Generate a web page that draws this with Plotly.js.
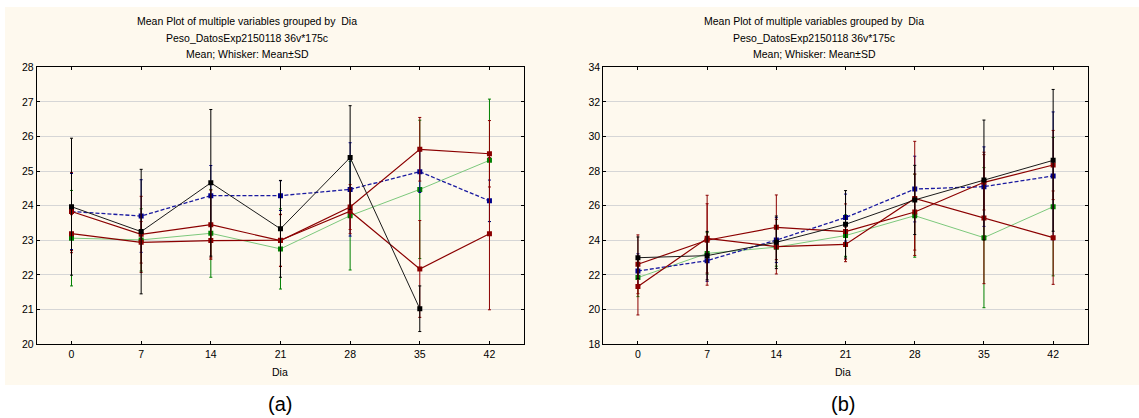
<!DOCTYPE html>
<html>
<head>
<meta charset="utf-8">
<script src="https://cdn.plot.ly/plotly-3.0.1.min.js"></script>
<style>html,body{margin:0;padding:0;background:#fff;}#chart{width:1139px;height:418px;}</style>
</head>
<body>
<div id="chart"></div>
<script>
// Data
var days = [0, 7, 14, 21, 28, 35, 42];
var tickLabels = ["0", "7", "14", "21", "28", "35", "42"];

// Panel (a)
var aBlack   = [23.97, 23.25, 24.66, 23.33, 25.39, 21.02, null];
var aBlackSd = [1.98, 1.80, 2.12, 1.40, 1.50, 0.66, null];
var aBlue    = [23.83, 23.70, 24.29, 24.29, 24.47, 24.98, 24.14];
var aBlueSd  = [1.10, 1.05, 0.87, 0.43, 1.35, 0.60, 0.60];
var aGreen   = [23.06, 23.01, 23.20, 22.75, 23.71, 24.47, 25.31];
var aGreenSd = [1.38, 0.90, 1.27, 1.16, 1.57, 2.00, 1.77];
var aRed1    = [23.83, 23.17, 23.45, 22.99, 23.96, 25.63, 25.50];
var aRed1Sd  = [1.13, 1.10, 1.00, 0.75, 0.65, 0.92, 0.96];
var aRed2    = [23.19, 22.94, 22.99, 23.00, 23.84, 22.17, 23.19];
var aRed2Sd  = [0.55, 0.60, 0.50, 0.75, 0.65, 1.40, 2.20];

// Panel (b)
var bBlack   = [22.99, 23.11, 23.88, 24.92, 26.33, 27.48, 28.62];
var bBlackSd = [1.20, 1.40, 1.52, 1.95, 2.00, 3.47, 4.10];
var bBlue    = [22.22, 22.82, 24.01, 25.31, 26.96, 27.10, 27.72];
var bBlueSd  = [1.00, 1.20, 1.30, 1.36, 1.90, 2.30, 3.70];
var bGreen   = [21.84, 23.24, 23.60, 24.27, 25.42, 24.15, 25.94];
var bGreenSd = [1.10, 1.20, 1.10, 1.20, 2.40, 4.05, 4.00];
var bRed1    = [22.61, 24.00, 24.75, 24.50, 25.63, 27.35, 28.35];
var bRed1Sd  = [1.70, 2.60, 1.87, 1.60, 2.20, 1.60, 2.00];
var bRed2    = [21.33, 24.11, 23.63, 23.76, 26.42, 25.29, 24.15];
var bRed2Sd  = [1.65, 2.00, 1.58, 1.00, 3.30, 3.80, 2.70];

var titleLines = ["Mean Plot of multiple variables grouped by  Dia",
                  "Peso_DatosExp2150118 36v*175c",
                  "Mean; Whisker: Mean\u00b1SD"];

var styles = {
  black: {line: '#1a1a1a', marker: '#000000', dash: 'solid', w: 1},
  blue:  {line: '#1a1aa0', marker: '#00008b', dash: '4px,2px', w: 1.3},
  green: {line: '#7cc87c', marker: '#008000', dash: 'solid', w: 1},
  red:   {line: '#8b0000', marker: '#8b0000', dash: 'solid', w: 1.2}
};

function tr(y, sd, st, xa, ya) {
  var s = styles[st];
  return {
    x: days, y: y, xaxis: xa, yaxis: ya, type: 'scatter', mode: 'lines+markers',
    connectgaps: false, showlegend: false,
    line: {color: s.line, width: s.w, dash: s.dash},
    marker: {color: s.marker, size: 5, symbol: 'square'},
    error_y: {type: 'data', array: sd, visible: true, color: s.marker, thickness: 1, width: 1.5}
  };
}

var traces = [
  tr(aGreen, aGreenSd, 'green', 'x', 'y'),
  tr(aBlue, aBlueSd, 'blue', 'x', 'y'),
  tr(aRed2, aRed2Sd, 'red', 'x', 'y'),
  tr(aRed1, aRed1Sd, 'red', 'x', 'y'),
  tr(aBlack, aBlackSd, 'black', 'x', 'y'),
  tr(bGreen, bGreenSd, 'green', 'x2', 'y2'),
  tr(bBlue, bBlueSd, 'blue', 'x2', 'y2'),
  tr(bRed2, bRed2Sd, 'red', 'x2', 'y2'),
  tr(bRed1, bRed1Sd, 'red', 'x2', 'y2'),
  tr(bBlack, bBlackSd, 'black', 'x2', 'y2')
];

var tickFont = {family: 'Liberation Sans, Arial, sans-serif', size: 10.5, color: '#000'};
function xax(dom, anchor) {
  return {domain: dom, anchor: anchor, range: [-3.5, 45.5], tickvals: days, ticktext: tickLabels,
    ticks: 'inside', ticklen: 3, tickcolor: '#000', showgrid: false, zeroline: false,
    showline: true, linecolor: '#000', linewidth: 1, mirror: 'allticks', tickfont: tickFont, fixedrange: true};
}
function yax(dom, anchor, rng, dt) {
  return {domain: dom, anchor: anchor, range: rng, dtick: dt, tick0: rng[0],
    ticks: 'inside', ticklen: 3, tickcolor: '#000', showgrid: true, gridcolor: '#d6d6d6', gridwidth: 1,
    zeroline: false, showline: true, linecolor: '#000', linewidth: 1, mirror: 'allticks',
    tickfont: tickFont, fixedrange: true};
}

var yDom = [0.177, 0.839];
var annotations = [];
function addTitles(cx, axisX) {
  var ys = [20.7, 38.5, 54.5];
  for (var i = 0; i < 3; i++) {
    annotations.push({xref: 'paper', yref: 'paper', x: cx / 1139, y: 1 - ys[i] / 418,
      xanchor: 'center', yanchor: 'middle', showarrow: false, text: titleLines[i],
      font: {family: 'Liberation Sans, Arial, sans-serif', size: 10.5, color: '#000'}});
  }
  annotations.push({xref: 'paper', yref: 'paper', x: axisX / 1139, y: 1 - 372 / 418,
    xanchor: 'center', yanchor: 'middle', showarrow: false, text: 'Dia',
    font: {family: 'Liberation Sans, Arial, sans-serif', size: 10.5, color: '#000'}});
}
addTitles(247, 280);
addTitles(814, 843);
annotations.push({xref: 'paper', yref: 'paper', x: 280 / 1139, y: 1 - 404 / 418, xanchor: 'center', yanchor: 'middle',
  showarrow: false, text: '(a)', font: {family: 'Liberation Sans, Arial, sans-serif', size: 20, color: '#000'}});
annotations.push({xref: 'paper', yref: 'paper', x: 843 / 1139, y: 1 - 404 / 418, xanchor: 'center', yanchor: 'middle',
  showarrow: false, text: '(b)', font: {family: 'Liberation Sans, Arial, sans-serif', size: 20, color: '#000'}});

var layout = {
  width: 1139, height: 418,
  margin: {l: 0, r: 0, t: 0, b: 0},
  paper_bgcolor: '#ffffff', plot_bgcolor: '#ffffff',
  showlegend: false,
  xaxis: xax([0.0322, 0.4603], 'y'),
  yaxis: yax(yDom, 'x', [20, 28], 1),
  xaxis2: xax([0.5297, 0.955], 'y2'),
  yaxis2: yax(yDom, 'x2', [18, 34], 2),
  shapes: [
    {type: 'rect', xref: 'paper', yref: 'paper', x0: 5 / 1139, x1: 1, y0: 1 - 385 / 418, y1: 1 - 7 / 418,
      fillcolor: '#fef9ee', line: {width: 0}, layer: 'below'}
  ],
  annotations: annotations
};

Plotly.newPlot('chart', traces, layout, {staticPlot: true, displayModeBar: false});
</script>
</body>
</html>
